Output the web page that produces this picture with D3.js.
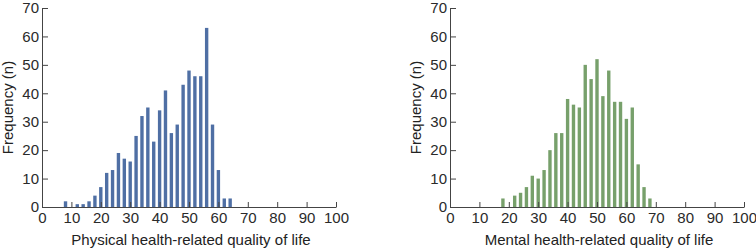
<!DOCTYPE html>
<html lang="en">
<head>
    <meta charset="UTF-8">
    <title>Health-related quality of life histograms</title>
    <script src="https://d3js.org/d3.v7.min.js"></script>
    <style>
        body {
            margin: 0;
            background: #fff;
            font-family: "Liberation Sans", Arial, sans-serif;
        }
        .axis path, .axis line {
            stroke: #444;
            stroke-width: 1;
        }
        .axis text {
            font-size: 15px;
            fill: #2a2a2a;
            font-family: "Liberation Sans", Arial, sans-serif;
        }
        .title {
            font-size: 15px;
            fill: #222;
        }
    </style>
</head>
<body>
    <div id="chart"></div>
    <script>
        // bin midpoints (every 2 points)
        var physicalBins = [8, 10, 12, 14, 16, 18, 20, 22, 24, 26, 28, 30, 32, 34, 36, 38, 40, 42, 44, 46, 48, 50, 52, 54, 56, 58, 60, 62, 64];
        var physicalCounts = [2, 0, 1, 1, 2, 4, 7, 12, 13, 19, 17, 16, 25, 32, 35, 23, 34, 41, 26, 29, 43, 48, 46, 46, 63, 29, 13, 3, 3];

        var mentalBins = [18, 20, 22, 24, 26, 28, 30, 32, 34, 36, 38, 40, 42, 44, 46, 48, 50, 52, 54, 56, 58, 60, 62, 64, 66, 68];
        var mentalCounts = [3, 0, 4, 5, 7, 11, 10, 13, 20, 26, 26, 38, 36, 35, 50, 45, 52, 39, 48, 37, 37, 31, 35, 15, 7, 3];

        var xTicks = [0, 10, 20, 30, 40, 50, 60, 70, 80, 90, 100];
        var yTicks = [0, 10, 20, 30, 40, 50, 60, 70];

        var W = 756, H = 250;

        var svg = d3.select("#chart").append("svg")
            .attr("width", W)
            .attr("height", H);

        function drawPanel(left, bins, counts, color, label) {
            var pw = 294, top = 8, bottom = 207;

            var x = d3.scaleLinear().domain([0, 100]).range([left, left + pw]);
            var y = d3.scaleLinear().domain([0, 70]).range([bottom, top]);
            var bw = x(1.15) - x(0);

            var data = bins.map(function(b, i) { return {bin: b, n: counts[i]}; });

            svg.append("g").selectAll("rect")
                .data(data.filter(function(d) { return d.n > 0; }))
                .enter().append("rect")
                .attr("x", function(d) { return x(d.bin) - bw / 2; })
                .attr("y", function(d) { return y(d.n); })
                .attr("width", bw)
                .attr("height", function(d) { return y(0) - y(d.n); })
                .attr("fill", color);

            // X axis (ticks point inward)
            svg.append("g")
                .attr("class", "axis")
                .attr("transform", "translate(0," + bottom + ")")
                .call(d3.axisBottom(x).tickValues(xTicks).tickSize(-5).tickSizeOuter(0).tickPadding(5));

            // Y axis
            svg.append("g")
                .attr("class", "axis")
                .attr("transform", "translate(" + left + ",0)")
                .call(d3.axisLeft(y).tickValues(yTicks).tickSize(-6).tickSizeOuter(0).tickPadding(3));

            svg.append("text")
                .attr("class", "title")
                .attr("text-anchor", "middle")
                .attr("x", left + pw / 2 + 2)
                .attr("y", 245)
                .text(label);

            svg.append("text")
                .attr("class", "title")
                .attr("text-anchor", "middle")
                .attr("transform", "translate(" + (left - 29) + "," + ((top + bottom) / 2) + ") rotate(-90)")
                .text("Frequency (n)");
        }

        drawPanel(42, physicalBins, physicalCounts, "#4f6fa4", "Physical health-related quality of life");
        drawPanel(450, mentalBins, mentalCounts, "#77a06b", "Mental health-related quality of life");
    </script>
</body>
</html>
